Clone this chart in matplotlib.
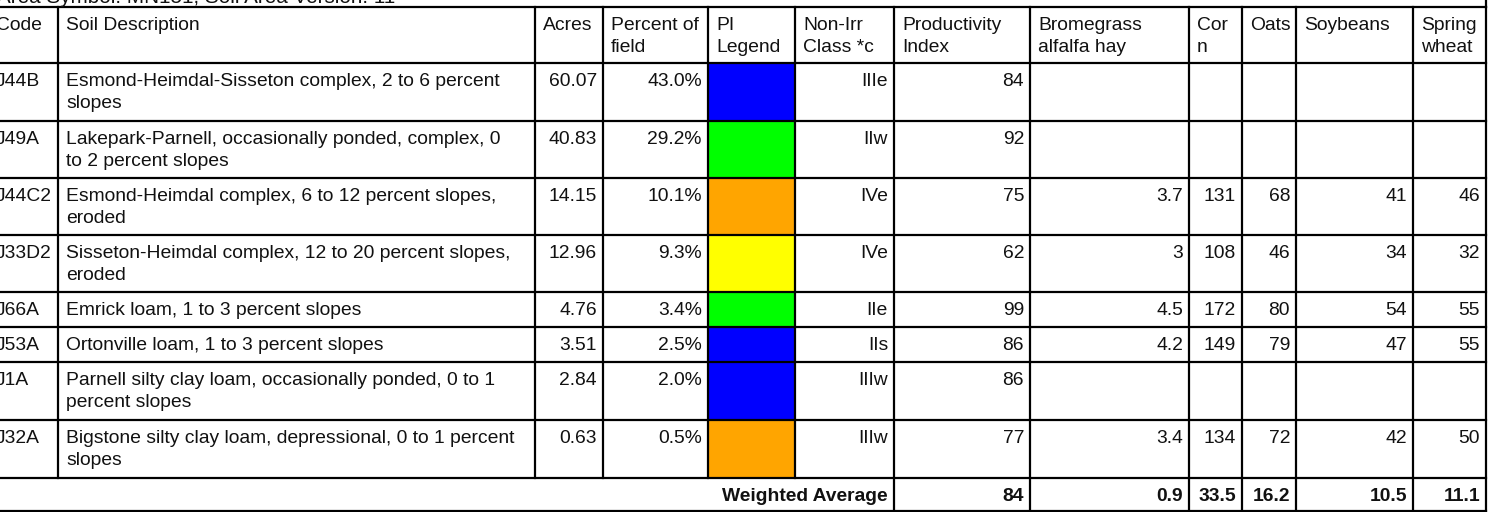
import matplotlib.pyplot as plt
from matplotlib.patches import Rectangle

plt.rcParams['font.family'] = ['Liberation Sans', 'DejaVu Sans']

title = 'Area Symbol: MN151, Soil Area Version: 11'
headers = ['Code', 'Soil Description', 'Acres', 'Percent of\nfield', 'PI\nLegend',
           'Non-Irr\nClass *c', 'Productivity\nIndex', 'Bromegrass\nalfalfa hay',
           'Cor\nn', 'Oats', 'Soybeans', 'Spring\nwheat']

codes = ['J44B', 'J49A', 'J44C2', 'J33D2', 'J66A', 'J53A', 'J1A', 'J32A']
descriptions = [
    'Esmond-Heimdal-Sisseton complex, 2 to 6 percent\nslopes',
    'Lakepark-Parnell, occasionally ponded, complex, 0\nto 2 percent slopes',
    'Esmond-Heimdal complex, 6 to 12 percent slopes,\neroded',
    'Sisseton-Heimdal complex, 12 to 20 percent slopes,\neroded',
    'Emrick loam, 1 to 3 percent slopes',
    'Ortonville loam, 1 to 3 percent slopes',
    'Parnell silty clay loam, occasionally ponded, 0 to 1\npercent slopes',
    'Bigstone silty clay loam, depressional, 0 to 1 percent\nslopes',
]
acres = ['60.07', '40.83', '14.15', '12.96', '4.76', '3.51', '2.84', '0.63']
percent = ['43.0%', '29.2%', '10.1%', '9.3%', '3.4%', '2.5%', '2.0%', '0.5%']
pi_colors = ['#0000ff', '#00ff00', '#ffa500', '#ffff00', '#00ff00', '#0000ff', '#0000ff', '#ffa500']
non_irr = ['IIIe', 'IIw', 'IVe', 'IVe', 'IIe', 'IIs', 'IIIw', 'IIIw']
prod_index = ['84', '92', '75', '62', '99', '86', '86', '77']
brome = ['', '', '3.7', '3', '4.5', '4.2', '', '3.4']
corn = ['', '', '131', '108', '172', '149', '', '134']
oats = ['', '', '68', '46', '80', '79', '', '72']
soybeans = ['', '', '41', '34', '54', '47', '', '42']
wheat = ['', '', '46', '32', '55', '55', '', '50']
weighted = ['84', '0.9', '33.5', '16.2', '10.5', '11.1']

# layout in pixels
W, H = 1490, 512
col_x = [-12, 58, 535, 603, 708, 795, 894, 1030, 1189, 1242, 1296, 1413, 1486]
row_y = [7, 63, 121, 178, 235, 292, 327, 362, 420, 478, 511]
fs = 13.9
lh = 22
lw = 1.6

fig = plt.figure(figsize=(W / 100, H / 100), dpi=100)
ax = fig.add_axes([0, 0, 1, 1])
ax.set_xlim(0, W)
ax.set_ylim(H, 0)
ax.axis('off')


def cell_text(s, c, r, align='left', bold=False):
    x = col_x[c] + 8 if align == 'left' else col_x[c + 1] - 6
    for i, line in enumerate(s.split('\n')):
        ax.text(x, row_y[r] + 23 + i * lh, line, ha=align, va='baseline', fontsize=fs,
                fontweight='bold' if bold else 'normal', color='#111111')


# title (cut off at the top)
ax.text(-3, 3, title, ha='left', va='baseline', fontsize=fs + 1, color='#111111')
ax.plot([col_x[-1], col_x[-1]], [-5, row_y[0]], color='black', lw=lw)

# header
for c, h in enumerate(headers):
    cell_text(h, c, 0)

columns = [codes, descriptions, acres, percent, None, non_irr, prod_index,
           brome, corn, oats, soybeans, wheat]
for r in range(len(codes)):
    for c, col in enumerate(columns):
        if col is None:
            ax.add_patch(Rectangle((col_x[c], row_y[r + 1]), col_x[c + 1] - col_x[c],
                                   row_y[r + 2] - row_y[r + 1], color=pi_colors[r], lw=0))
            continue
        cell_text(col[r], c, r + 1, align='left' if c < 2 else 'right')

# weighted average row
last = len(row_y) - 2
cell_text('Weighted Average', 5, last, align='right', bold=True)
for i, v in enumerate(weighted):
    cell_text(v, 6 + i, last, align='right', bold=True)

# grid lines
for y in row_y:
    ax.plot([col_x[0], col_x[-1]], [y, y], color='black', lw=lw, solid_capstyle='projecting')
for i, x in enumerate(col_x):
    y1 = row_y[-2] if 0 < i < 6 else row_y[-1]
    ax.plot([x, x], [row_y[0], y1], color='black', lw=lw, solid_capstyle='projecting')

fig.savefig('out.png', dpi=100)
